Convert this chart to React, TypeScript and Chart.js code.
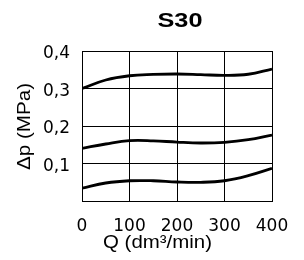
import React, { useEffect, useRef } from "react";
import { Chart, registerables } from "chart.js";

Chart.register(...registerables);

const TITLE = "S30";
const X_TITLE = "Q (dm³/min)";
const Y_TITLE = "Δp (MPa)";
const flowQ = [0, 50, 100, 150, 200, 250, 300, 350, 400];
const upperCurve = [0.3, 0.3227, 0.334, 0.3375, 0.3387, 0.337, 0.335, 0.338, 0.352];
const middleCurve = [0.1405, 0.152, 0.161, 0.1605, 0.157, 0.1547, 0.1565, 0.1635, 0.176];
const lowerCurve = [0.034, 0.048, 0.054, 0.054, 0.0507, 0.0498, 0.054, 0.0675, 0.087];
const xTicks = [0, 100, 200, 300, 400];
const yTicks = [0.1, 0.2, 0.3, 0.4];

const FONT = "'Liberation Sans', Arial, sans-serif";
const TICK_FONT = "'DejaVu Sans', sans-serif";

function stretchedText(ctx: CanvasRenderingContext2D, text: string, x: number, y: number, font: string, width: number, rot = 0) {
  ctx.save();
  ctx.font = font;
  ctx.textAlign = "center";
  ctx.textBaseline = "middle";
  ctx.fillStyle = "#000";
  const w = ctx.measureText(text).width;
  ctx.translate(x, y);
  if (rot) ctx.rotate(rot);
  ctx.scale(width / w, 1);
  ctx.fillText(text, 0, 0);
  ctx.restore();
}

export default function App() {
  const ref = useRef<HTMLCanvasElement>(null);
  useEffect(() => {
    if (!ref.current) return;
    const mk = (vals: number[]) => ({
      data: flowQ.map((q, i) => ({ x: q, y: vals[i] })),
      borderColor: "#000",
      borderWidth: 2.8,
      pointRadius: 0,
      tension: 0.4,
      fill: false,
    });
    const textPlugin = {
      id: "texts",
      afterDraw(chart: any) {
        const ctx = chart.ctx;
        stretchedText(ctx, TITLE, 180, 22, `bold 19.5px ${FONT}`, 45);
        stretchedText(ctx, X_TITLE, 157.5, 243, `17.5px ${FONT}`, 109);
        stretchedText(ctx, Y_TITLE, 25, 126.5, `17.5px ${FONT}`, 87, -Math.PI / 2);
      },
    };
    const chart = new Chart(ref.current, {
      type: "line",
      data: { datasets: [mk(upperCurve), mk(middleCurve), mk(lowerCurve)] },
      options: {
        animation: false,
        responsive: false,
        layout: { padding: { top: 51, right: 32, left: 0, bottom: 0 } },
        plugins: { legend: { display: false }, tooltip: { enabled: false } },
        scales: {
          x: {
            type: "linear",
            min: 0,
            max: 400,
            afterFit(s: any) { s.height = 59; },
            afterBuildTicks(s: any) { s.ticks = xTicks.map((v) => ({ value: v })); },
            grid: { color: "#000", lineWidth: 1, drawTicks: false },
            border: { color: "#000", width: 1 },
            ticks: {
              color: "#000",
              font: { family: TICK_FONT, size: 17 },
              padding: 15,
              maxRotation: 0,
              callback: (v: any) => String(v),
            },
          },
          y: {
            type: "linear",
            min: 0,
            max: 0.4,
            afterFit(s: any) { s.width = 82; },
            afterBuildTicks(s: any) { s.ticks = [0, ...yTicks].map((v) => ({ value: v })); },
            grid: { color: "#000", lineWidth: 1, drawTicks: false },
            border: { color: "#000", width: 1 },
            ticks: {
              color: "#000",
              font: { family: TICK_FONT, size: 17 },
              padding: 12,
              labelOffset: 3,
              callback: (v: any) => (Math.abs(v) < 1e-9 ? "" : Number(v).toFixed(1).replace(".", ",")),
            },
          },
        },
      },
      plugins: [textPlugin],
    } as any);
    return () => chart.destroy();
  }, []);
  return (
    <div style={{ position: "absolute", left: 0, top: 0, width: 304, height: 260, background: "#fff" }}>
      <canvas ref={ref} width={304} height={260} style={{ width: 304, height: 260, display: "block" }} />
    </div>
  );
}
